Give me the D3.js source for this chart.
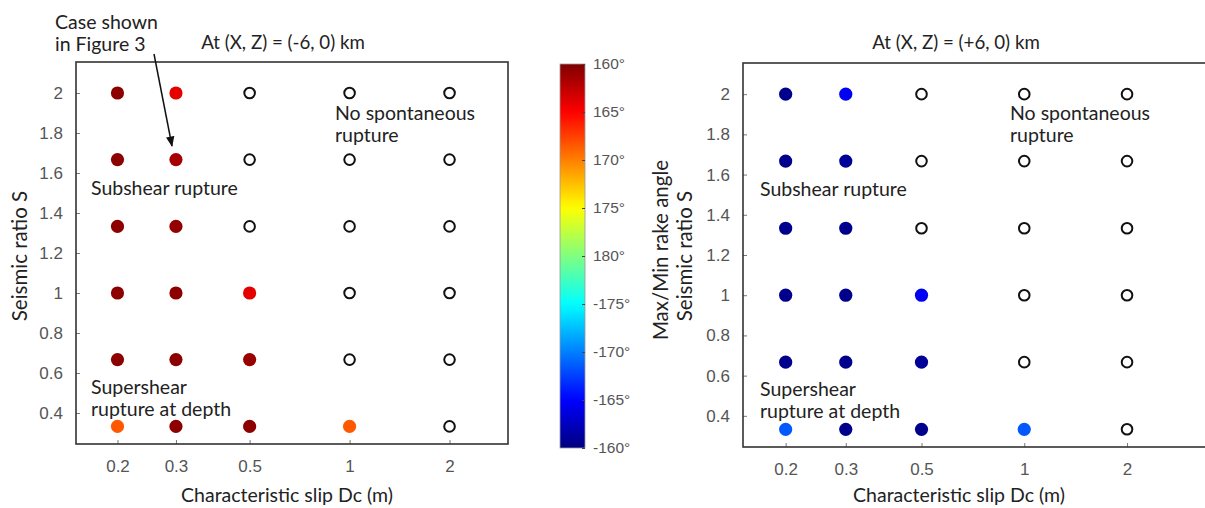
<!DOCTYPE html>
<html>
<head>
<meta charset="utf-8">
<script src="https://cdn.jsdelivr.net/npm/d3@7"></script>
<style>
  body { margin: 0; background: #fff; }
  svg { font-family: Lato, "Open Sans", sans-serif; }
</style>
</head>
<body>
<svg id="chart" width="1205" height="508"></svg>
<script>
// Characteristic slip Dc (m) on the x axis, seismic ratio S on the y axis
const dcValues = [0.2, 0.3, 0.5, 1, 2];
const sValues = [2, 1.667, 1.333, 1, 0.667, 0.333];

// max/min rake angle (deg), one row per S value; null = no spontaneous rupture
const rakeWest = [
    [160.5, 164, null, null, null],
    [160.5, 161.5, null, null, null],
    [160.5, 160.8, null, null, null],
    [160.5, 160.5, 164, null, null],
    [160.5, 160.5, 161, null, null],
    [168.5, 160.5, 160.5, 168.5, null]
];
const rakeEast = [
    [-160.5, -164.5, null, null, null],
    [-160.5, -161, null, null, null],
    [-160.5, -160.5, null, null, null],
    [-160.5, -160.5, -164.5, null, null],
    [-160.5, -160.5, -161, null, null],
    [-168.5, -160.5, -160.5, -168.5, null]
];

const yTicks = [0.4, 0.6, 0.8, 1, 1.2, 1.4, 1.6, 1.8, 2];
const cbarTicks = [160, 165, 170, 175, 180, -175, -170, -165, -160];

const svg = d3.select("#chart");

// matlab style jet colormap
function jet(t) {
    const c = v => Math.max(0, Math.min(1, v));
    const r = c(1.5 - Math.abs(4 * t - 3));
    const g = c(1.5 - Math.abs(4 * t - 2));
    const b = c(1.5 - Math.abs(4 * t - 1));
    return d3.rgb(r * 255, g * 255, b * 255).formatHex();
}
const unwrap = a => a < 0 ? a + 360 : a;
const cNorm = d3.scaleLinear().domain([200, 160]).range([0, 1]);
const rakeColor = a => jet(cNorm(unwrap(a)));

const panels = [
    {x0: 76, x1: 508, y0: 62, y1: 444, xMax: 3, rake: rakeWest,
     title: "At (X, Z) = (-6, 0) km", titleX: 283, xLabX: 287, yLabX: 27,
     notes: [
        {x: 335, y: 120, lines: ["No spontaneous", "rupture"]},
        {x: 91, y: 195, lines: ["Subshear rupture"]},
        {x: 91, y: 394, lines: ["Supershear", "rupture at depth"]}
     ]},
    {x0: 743, x1: 1210, y0: 63, y1: 447, xMax: 3.5, rake: rakeEast,
     title: "At (X, Z) = (+6, 0) km", titleX: 956, xLabX: 959, yLabX: 692,
     notes: [
        {x: 1010, y: 120, lines: ["No spontaneous", "rupture"]},
        {x: 760, y: 196, lines: ["Subshear rupture"]},
        {x: 760, y: 396, lines: ["Supershear", "rupture at depth"]}
     ]}
];

panels.forEach(p => {
    const x = d3.scaleLog().domain([0.15, p.xMax]).range([p.x0, p.x1]);
    const y = d3.scaleLinear().domain([0.245, 2.155]).range([p.y1, p.y0]);
    const g = svg.append("g");

    // axes with ticks pointing inward
    const ax = g.append("g")
        .attr("transform", `translate(0,${p.y1})`)
        .call(d3.axisBottom(x).tickValues(dcValues).tickFormat(d3.format("~g"))
            .tickSize(-4).tickPadding(16));
    const ay = g.append("g")
        .attr("transform", `translate(${p.x0},0)`)
        .call(d3.axisLeft(y).tickValues(yTicks).tickFormat(d3.format("~g"))
            .tickSize(-4).tickPadding(13));
    [ax, ay].forEach(a => {
        a.select(".domain").remove();
        a.selectAll("line").attr("stroke", "#777");
        a.selectAll("text").attr("fill", "#555").style("font-size", "17px");
    });

    g.append("rect")
        .attr("x", p.x0).attr("y", p.y0)
        .attr("width", p.x1 - p.x0).attr("height", p.y1 - p.y0)
        .attr("fill", "none").attr("stroke", "#333").attr("stroke-width", 1.6);

    // one mark per simulated case
    const cases = [];
    sValues.forEach((s, i) => dcValues.forEach((dc, j) => {
        cases.push({s, dc, rake: p.rake[i][j]});
    }));
    g.selectAll("circle.case")
        .data(cases)
        .enter().append("circle")
        .attr("class", "case")
        .attr("cx", d => x(d.dc))
        .attr("cy", d => y(d.s))
        .attr("r", d => d.rake === null ? 5.3 : 6.6)
        .attr("fill", d => d.rake === null ? "#fff" : rakeColor(d.rake))
        .attr("stroke", d => d.rake === null ? "#111" : "none")
        .attr("stroke-width", 2);

    g.append("text")
        .attr("x", p.titleX).attr("y", 49)
        .attr("text-anchor", "middle")
        .attr("fill", "#222").style("font-size", "18.7px")
        .text(p.title);
    g.append("text")
        .attr("x", p.xLabX).attr("y", 502)
        .attr("text-anchor", "middle")
        .attr("fill", "#222").style("font-size", "19.5px")
        .text("Characteristic slip Dc (m)");
    g.append("text")
        .attr("transform", `translate(${p.yLabX},256) rotate(-90)`)
        .attr("text-anchor", "middle")
        .attr("fill", "#222").style("font-size", "20.5px")
        .text("Seismic ratio S");

    p.notes.forEach(n => {
        const t = g.append("text")
            .attr("x", n.x).attr("y", n.y)
            .attr("fill", "#222").style("font-size", "19.5px");
        n.lines.forEach((l, k) => t.append("tspan")
            .attr("x", n.x).attr("dy", k === 0 ? 0 : 22).text(l));
    });
});

// pointer to the case shown in figure 3
svg.append("defs").append("marker")
    .attr("id", "arrow")
    .attr("viewBox", "0 0 10 10")
    .attr("refX", 9).attr("refY", 5)
    .attr("markerWidth", 7).attr("markerHeight", 7)
    .attr("orient", "auto")
    .append("path").attr("d", "M0,1 L10,5 L0,9 Z").attr("fill", "#111");
svg.append("line")
    .attr("x1", 154).attr("y1", 54).attr("x2", 172).attr("y2", 146)
    .attr("stroke", "#111").attr("stroke-width", 1.5)
    .attr("marker-end", "url(#arrow)");
const caseNote = svg.append("text").attr("fill", "#222").style("font-size", "19.5px");
caseNote.append("tspan").attr("x", 55).attr("y", 29).text("Case shown");
caseNote.append("tspan").attr("x", 55).attr("y", 51).text("in Figure 3");

// colorbar
const cbX = 560, cbW = 25;
const cb = d3.scaleLinear().domain([160, 200]).range([64, 448]);
const grad = svg.select("defs").append("linearGradient")
    .attr("id", "jetGrad").attr("x1", 0).attr("y1", 0).attr("x2", 0).attr("y2", 1);
d3.range(0, 1.0001, 0.02).forEach(o => {
    grad.append("stop").attr("offset", o).attr("stop-color", jet(1 - o));
});
svg.append("rect")
    .attr("x", cbX).attr("y", cb(160))
    .attr("width", cbW).attr("height", cb(200) - cb(160))
    .attr("fill", "url(#jetGrad)").attr("stroke", "#999").attr("stroke-width", 0.8);
const cbAxis = svg.append("g")
    .attr("transform", `translate(${cbX + cbW},0)`)
    .call(d3.axisRight(cb).tickValues(cbarTicks.map(unwrap))
        .tickFormat(v => (v > 180 ? v - 360 : v) + "°")
        .tickSize(-3).tickPadding(8));
cbAxis.select(".domain").remove();
cbAxis.selectAll("line").attr("stroke", "#444");
cbAxis.selectAll("text").attr("fill", "#555").style("font-size", "15.5px");
svg.append("text")
    .attr("transform", "translate(668,250) rotate(-90)")
    .attr("text-anchor", "middle")
    .attr("fill", "#222").style("font-size", "20.5px")
    .text("Max/Min rake angle");
</script>
</body>
</html>
